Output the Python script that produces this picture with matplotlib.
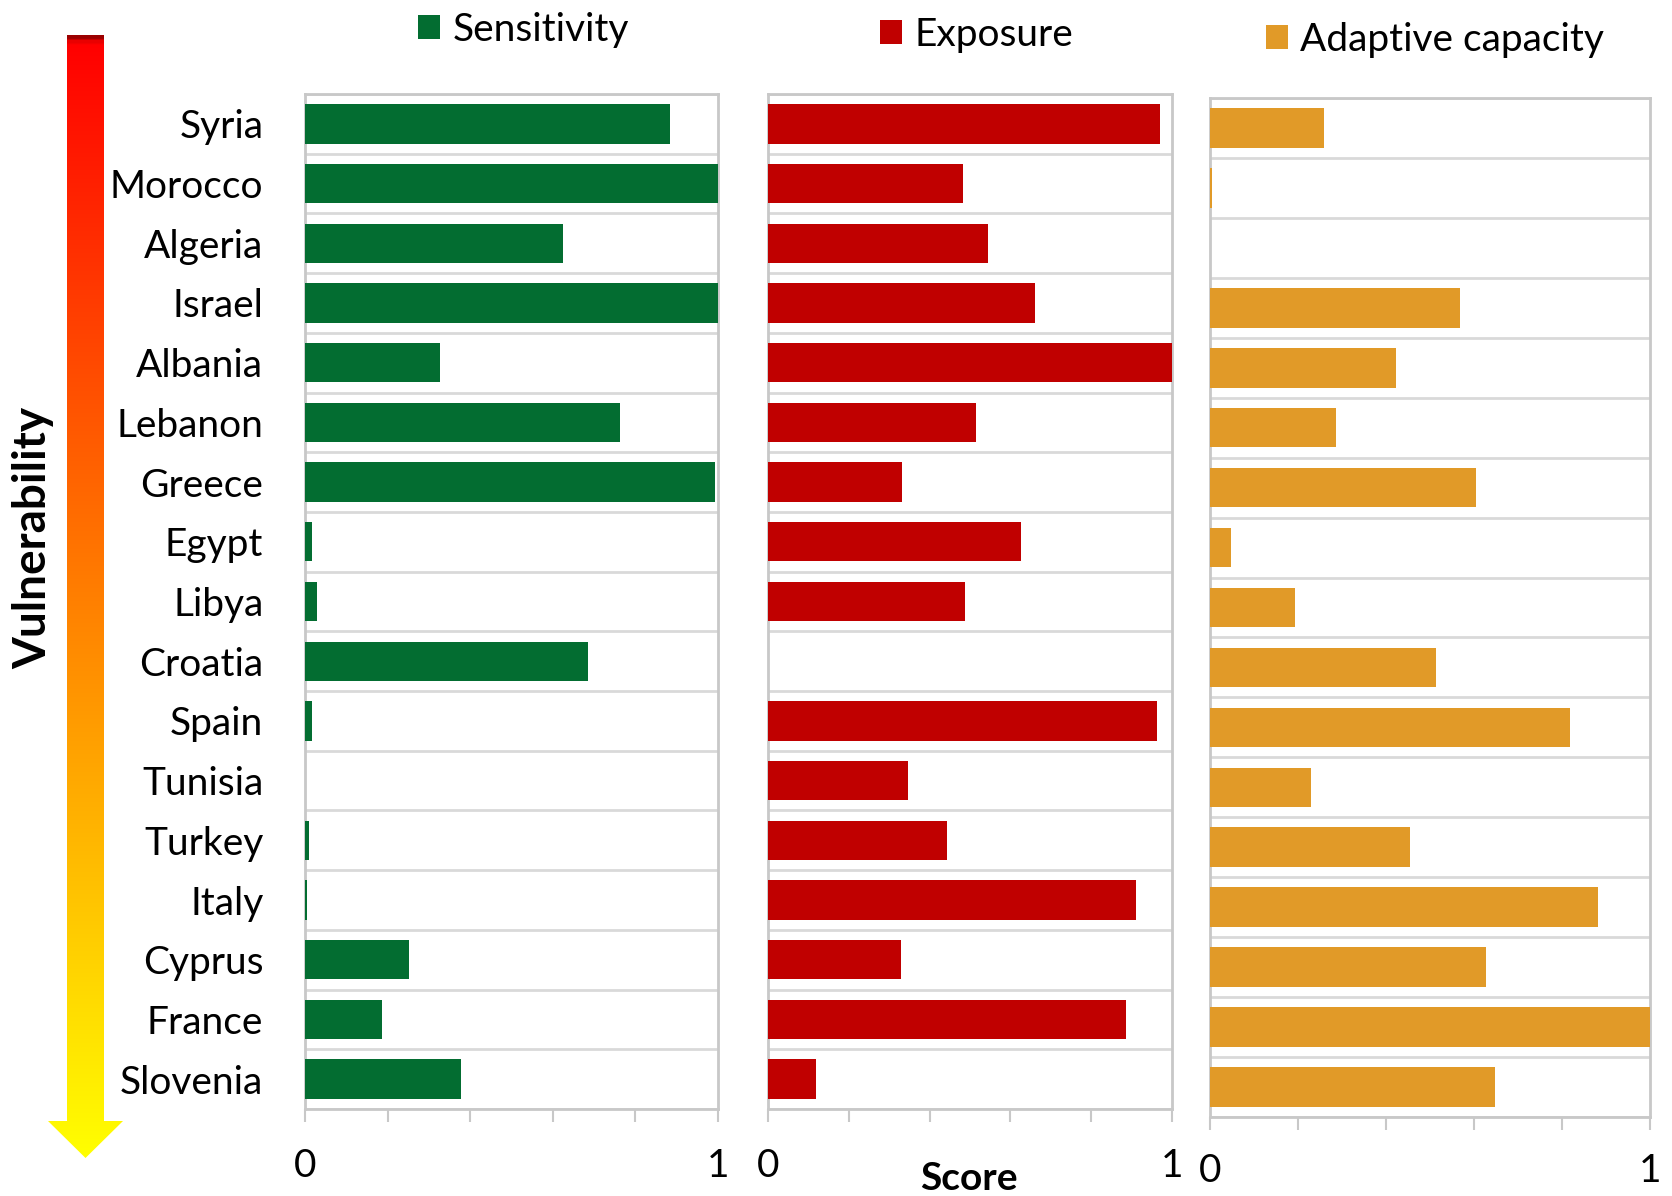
import matplotlib
matplotlib.use("Agg")
import matplotlib.pyplot as plt
import numpy as np
from matplotlib.colors import LinearSegmentedColormap
from matplotlib.patches import Polygon

plt.rcParams['font.family'] = ['Lato', 'DejaVu Sans']

countries = ['Syria', 'Morocco', 'Algeria', 'Israel', 'Albania', 'Lebanon',
             'Greece', 'Egypt', 'Libya', 'Croatia', 'Spain', 'Tunisia',
             'Turkey', 'Italy', 'Cyprus', 'France', 'Slovenia']
sensitivity = [0.884, 1.0, 0.625, 1.0, 0.326, 0.762, 0.992, 0.016, 0.028,
               0.685, 0.018, 0.0, 0.010, 0.005, 0.253, 0.186, 0.377]
exposure = [0.971, 0.483, 0.544, 0.660, 1.0, 0.515, 0.332, 0.625, 0.488,
            0.0, 0.963, 0.346, 0.443, 0.910, 0.330, 0.887, 0.119]
adaptive = [0.258, 0.005, 0.0, 0.568, 0.423, 0.287, 0.604, 0.048, 0.193,
            0.514, 0.819, 0.229, 0.454, 0.882, 0.628, 1.0, 0.647]

W, H = 1672, 1196
FS = 28
GRID = '#d9d9d9'
SPINE = '#c8c8c8'

fig = plt.figure(figsize=(W / 100, H / 100), dpi=100)


def px_axes(x0, x1, y0, y1):
    return fig.add_axes([x0 / W, 1 - y1 / H, (x1 - x0) / W, (y1 - y0) / H])


panels = [
    (px_axes(305, 718, 94, 1109), sensitivity, '#036D31', 'Sensitivity', (418, 30), 19),
    (px_axes(768, 1172, 94, 1109), exposure, '#C00000', 'Exposure', (880, 35), 19),
    (px_axes(1210, 1650, 98, 1117), adaptive, '#E19A28', 'Adaptive capacity', (1266, 40), 17),
]

y = np.arange(len(countries))
for i, (ax, vals, color, name, (lx, ly), tpad) in enumerate(panels):
    bars = ax.barh(y, vals, height=0.66, color=color, zorder=3)
    ax.set_xlim(0, 1)
    ax.set_ylim(len(countries) - 0.5, -0.5)
    ax.set_xticks(np.linspace(0, 1, 6))
    ax.set_xticklabels(['0', '', '', '', '', '1'], fontsize=FS)
    ax.tick_params(axis='x', length=9, width=1.5, color=SPINE, pad=tpad)
    ax.set_yticks(np.arange(-0.5, len(countries)), minor=True)
    ax.grid(which='minor', axis='y', color=GRID, lw=2, zorder=1)
    ax.tick_params(axis='y', which='both', length=0)
    if i == 0:
        ax.set_yticks(y)
        ax.set_yticklabels(countries, fontsize=FS)
        ax.tick_params(axis='y', pad=30)
    else:
        ax.set_yticks([])
    for s in ax.spines.values():
        s.set_color(SPINE)
        s.set_linewidth(2)
    ax.legend(handles=[bars], labels=[name], loc='center left',
              bbox_to_anchor=(lx / W, 1 - ly / H), bbox_transform=fig.transFigure,
              frameon=False, fontsize=FS, borderpad=0, borderaxespad=0,
              handlelength=0.57, handleheight=0.57, handletextpad=0.31)

fig.text(969 / W, 1 - 1179 / H, 'Score', fontsize=FS, fontweight='bold',
         ha='center', va='center')
fig.text(33 / W, 1 - 538 / H, 'Vulnerability', fontsize=33, fontweight='bold',
         rotation=90, ha='center', va='center')

# gradient arrow on the left, red at the top fading to yellow
over = fig.add_axes([0, 0, 1, 1], zorder=-1)
over.set_xlim(0, W)
over.set_ylim(H, 0)
over.axis('off')
cmap = LinearSegmentedColormap.from_list(
    'vuln', [(0, '#9b0000'), (0.005, '#ff0000'), (1, '#ffff00')])
grad = np.linspace(0, 1, 512).reshape(-1, 1)
img = over.imshow(grad, cmap=cmap, aspect='auto', extent=(48, 123, 1158, 35),
                  interpolation='bilinear')
arrow = Polygon([(67, 35), (104, 35), (104, 1121), (123, 1121), (85.5, 1158),
                 (48, 1121), (67, 1121)], closed=True, facecolor='none',
                edgecolor='none', transform=over.transData)
over.add_patch(arrow)
img.set_clip_path(arrow)

fig.savefig('out.png', dpi=100)
